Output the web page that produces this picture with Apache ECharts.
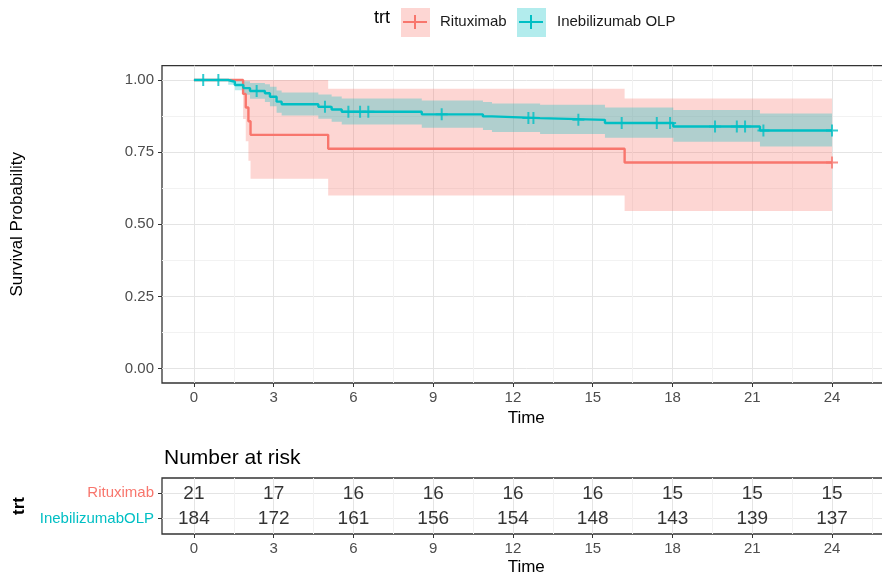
<!DOCTYPE html>
<html>
<head>
<meta charset="utf-8">
<script src="https://cdn.jsdelivr.net/npm/echarts@6/dist/echarts.min.js"></script>
<style>
  html, body { margin: 0; padding: 0; background: #fff; overflow: hidden; width: 882px; height: 579px; }
  /* the plot panel runs off the right edge, as in the reference */
  #chart { width: 891px; height: 579px; }
</style>
</head>
<body>
<div id="chart"></div>
<script>
// Kaplan-Meier steps (time in months)
const ritTime  = [0, 1.85, 1.95, 2.05, 2.13, 5.05, 16.2, 24];
const ritSurv  = [1, 0.952, 0.905, 0.857, 0.810, 0.762, 0.714, 0.714];
const ritLower = [1, 0.865, 0.788, 0.720, 0.658, 0.600, 0.546, 0.546];
const ritUpper = [1, 1, 1, 1, 1, 0.970, 0.936, 0.936];
const ritCensor = [24];

const ineTime  = [0, 1.29, 1.54, 1.86, 2.11, 2.67, 2.86, 3.11, 3.30, 4.68, 5.18, 5.56, 8.57, 10.87, 11.21, 13.02, 15.46, 18.03, 21.29, 24];
const ineSurv  = [1, 0.994, 0.983, 0.972, 0.962, 0.954, 0.942, 0.925, 0.916, 0.907, 0.898, 0.890, 0.881, 0.874, 0.868, 0.862, 0.851, 0.839, 0.825, 0.825];
const ineLower = [1, 0.984, 0.965, 0.949, 0.935, 0.924, 0.909, 0.887, 0.877, 0.866, 0.855, 0.846, 0.835, 0.827, 0.820, 0.813, 0.800, 0.786, 0.770, 0.770];
const ineUpper = [1, 1, 1, 0.996, 0.990, 0.985, 0.977, 0.964, 0.957, 0.950, 0.943, 0.936, 0.929, 0.924, 0.919, 0.914, 0.905, 0.896, 0.884, 0.884];
const ineCensor = [0.35, 0.92, 2.36, 4.93, 5.81, 6.25, 6.56, 9.32, 12.58, 12.77, 14.46, 16.09, 17.41, 17.91, 19.6, 20.42, 20.73, 21.42, 24];

// number at risk table
const riskTimes = [0, 3, 6, 9, 12, 15, 18, 21, 24];
const riskRit = [21, 17, 16, 16, 16, 16, 15, 15, 15];
const riskIne = [184, 172, 161, 156, 154, 148, 143, 139, 137];
const riskGroups = ['InebilizumabOLP', 'Rituximab'];

// tick labels
const xTicks = [0, 3, 6, 9, 12, 15, 18, 21, 24];
const yTicks = [0, 0.25, 0.5, 0.75, 1];

const RED = '#F8766D';
const TEAL = '#00BFC4';
const FONT = '"Liberation Sans", Arial, sans-serif';

const xMinor = xTicks.map(v => v + 1.5);
const yMinor = yTicks.slice(0, -1).map(v => v + 0.125);
const xGridVals = xTicks.concat(xMinor).sort((a, b) => a - b);
const yGridVals = yTicks.concat(yMinor).sort((a, b) => a - b);
const gridColors = ['#e4e4e4', '#f2f2f2'];

function pairs(t, v) {
  return t.map((x, i) => [x, v[i]]);
}
function survAt(t, s, x) {
  let k = 0;
  for (let i = 0; i < t.length; i++) if (t[i] <= x) k = i;
  return s[k];
}

// stepped confidence ribbon, one polygon through the axis scales
function band(name, t, lo, hi, color) {
  return {
    name: name, type: 'custom', clip: true, silent: true, z: 1,
    data: t.map((x, i) => [x, lo[i], hi[i]]),
    renderItem: function (params, api) {
      if (params.dataIndex !== 0) return null;
      const pts = [];
      for (let i = 0; i < t.length - 1; i++) {
        pts.push(api.coord([t[i], hi[i]]), api.coord([t[i + 1], hi[i]]));
      }
      for (let i = t.length - 2; i >= 0; i--) {
        pts.push(api.coord([t[i + 1], lo[i]]), api.coord([t[i], lo[i]]));
      }
      return { type: 'polygon', shape: { points: pts }, style: { fill: color } };
    }
  };
}
const plus = 'path://M0,5H12V7H0Z M5,0H7V12H5Z';
function censor(name, t, s, cs, color) {
  return {
    name: name, type: 'scatter', symbol: plus, symbolSize: 12,
    data: cs.map(x => [x, survAt(t, s, x)]),
    itemStyle: { color: color }, z: 4, silent: true
  };
}

const xRange = { min: -1.2, max: 26.2 };
const tickLabel = { fontSize: 15, color: '#4d4d4d', fontFamily: FONT };

const chart = echarts.init(document.getElementById('chart'));
chart.setOption({
  animation: false,
  backgroundColor: '#fff',
  title: {
    text: 'Number at risk', left: 159, top: 443,
    textStyle: { fontSize: 21, fontWeight: 'normal', color: '#000', fontFamily: FONT }
  },
  grid: [
    { left: 162, right: 0.5, top: 65.6, bottom: 196, show: true, borderColor: '#333', borderWidth: 1.3 },
    { left: 162, right: 0.5, top: 478, bottom: 45, show: true, borderColor: '#333', borderWidth: 1.3 }
  ],
  xAxis: [
    // main: grid lines
    {
      type: 'value', gridIndex: 0, ...xRange,
      axisLine: { show: false, onZero: false },
      axisTick: { show: false, customValues: xGridVals },
      axisLabel: { show: false },
      splitLine: { show: true, lineStyle: { color: gridColors, width: 1 } }
    },
    // main: ticks + labels
    {
      type: 'value', gridIndex: 0, ...xRange, position: 'bottom',
      axisLine: { show: false, onZero: false },
      axisTick: { show: true, length: 4, customValues: xTicks, lineStyle: { color: '#333' } },
      axisLabel: { ...tickLabel, margin: 7, customValues: xTicks },
      splitLine: { show: false },
      name: 'Time', nameLocation: 'middle', nameGap: 25,
      nameTextStyle: { fontSize: 17, color: '#000', fontFamily: FONT }
    },
    // risk: grid lines
    {
      type: 'value', gridIndex: 1, ...xRange,
      axisLine: { show: false, onZero: false },
      axisTick: { show: false, customValues: xGridVals },
      axisLabel: { show: false },
      splitLine: { show: true, lineStyle: { color: gridColors, width: 1 } }
    },
    // risk: ticks + labels
    {
      type: 'value', gridIndex: 1, ...xRange, position: 'bottom',
      axisLine: { show: false, onZero: false },
      axisTick: { show: true, length: 4, customValues: xTicks, lineStyle: { color: '#333' } },
      axisLabel: { ...tickLabel, margin: 7, customValues: xTicks },
      splitLine: { show: false },
      name: 'Time', nameLocation: 'middle', nameGap: 25,
      nameTextStyle: { fontSize: 17, color: '#000', fontFamily: FONT }
    }
  ],
  yAxis: [
    {
      type: 'value', gridIndex: 0, min: -0.05, max: 1.05,
      axisLine: { show: false, onZero: false },
      axisTick: { show: false, customValues: yGridVals },
      axisLabel: { show: false },
      splitLine: { show: true, lineStyle: { color: gridColors, width: 1 } }
    },
    {
      type: 'value', gridIndex: 0, min: -0.05, max: 1.05, position: 'left',
      axisLine: { show: false, onZero: false },
      axisTick: { show: true, length: 4, customValues: yTicks, lineStyle: { color: '#333' } },
      axisLabel: { ...tickLabel, margin: 8, customValues: yTicks, formatter: v => v.toFixed(2) },
      splitLine: { show: false },
      name: 'Survival Probability', nameLocation: 'middle', nameGap: 136,
      nameTextStyle: { fontSize: 17, color: '#000', fontFamily: FONT }
    },
    {
      type: 'value', gridIndex: 1, min: 0.4, max: 2.6, position: 'left',
      axisLine: { show: false, onZero: false },
      axisTick: { show: true, length: 4, customValues: [1, 2], lineStyle: { color: '#333' } },
      axisLabel: {
        margin: 8, customValues: [1, 2],
        formatter: v => (v === 2 ? '{r|' : '{i|') + riskGroups[v - 1] + '}',
        rich: {
          r: { color: RED, fontSize: 15, fontFamily: FONT },
          i: { color: TEAL, fontSize: 15, fontFamily: FONT }
        }
      },
      splitLine: { show: true, lineStyle: { color: '#e4e4e4', width: 1 } },
      name: 'trt', nameLocation: 'middle', nameGap: 134,
      nameTextStyle: { fontSize: 17, fontWeight: 'bold', color: '#000', fontFamily: FONT }
    }
  ],
  series: [
    band('ritBand', ritTime, ritLower, ritUpper, 'rgba(248,118,109,0.3)'),
    band('ineBand', ineTime, ineLower, ineUpper, 'rgba(0,191,196,0.3)'),
    {
      name: 'Rituximab', type: 'line', step: 'end', data: pairs(ritTime, ritSurv),
      symbol: 'none', lineStyle: { color: RED, width: 2.4 }, z: 3
    },
    {
      name: 'Inebilizumab OLP', type: 'line', step: 'end', data: pairs(ineTime, ineSurv),
      symbol: 'none', lineStyle: { color: TEAL, width: 2.4 }, z: 3
    },
    censor('ritCensor', ritTime, ritSurv, ritCensor, RED),
    censor('ineCensor', ineTime, ineSurv, ineCensor, TEAL),
    {
      name: 'risk', type: 'scatter', xAxisIndex: 2, yAxisIndex: 2,
      symbolSize: 1, itemStyle: { color: 'transparent' },
      data: riskTimes.map((t, i) => [t, 2, riskRit[i]]).concat(riskTimes.map((t, i) => [t, 1, riskIne[i]])),
      label: {
        show: true, position: 'inside', formatter: p => String(p.value[2]),
        fontSize: 19, color: '#000', fontFamily: FONT
      },
      silent: true
    }
  ],
  graphic: [
    { type: 'text', left: 374, top: 9, style: { text: 'trt', fontSize: 18, fill: '#000', fontFamily: FONT } },
    { type: 'rect', shape: { x: 401, y: 8, width: 29, height: 29 }, style: { fill: 'rgba(248,118,109,0.3)' } },
    { type: 'line', shape: { x1: 403, y1: 22, x2: 427, y2: 22 }, style: { stroke: RED, lineWidth: 2 } },
    { type: 'line', shape: { x1: 415, y1: 15, x2: 415, y2: 29 }, style: { stroke: RED, lineWidth: 2 } },
    { type: 'text', left: 440, top: 14, style: { text: 'Rituximab', fontSize: 15, fill: '#1a1a1a', fontFamily: FONT } },
    { type: 'rect', shape: { x: 517, y: 8, width: 29, height: 29 }, style: { fill: 'rgba(0,191,196,0.3)' } },
    { type: 'line', shape: { x1: 519, y1: 22, x2: 543, y2: 22 }, style: { stroke: TEAL, lineWidth: 2 } },
    { type: 'line', shape: { x1: 531, y1: 15, x2: 531, y2: 29 }, style: { stroke: TEAL, lineWidth: 2 } },
    { type: 'text', left: 557, top: 14, style: { text: 'Inebilizumab OLP', fontSize: 15, fill: '#1a1a1a', fontFamily: FONT } }
  ]
});
</script>
</body>
</html>
